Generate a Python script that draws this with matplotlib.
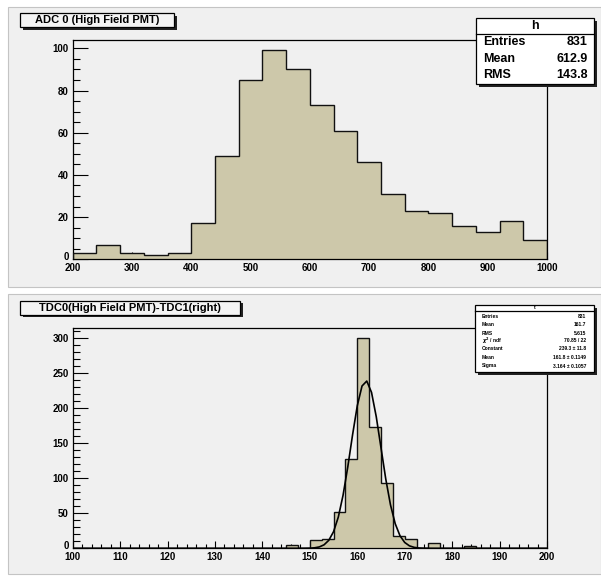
import numpy as np
import matplotlib
matplotlib.use('Agg')
import matplotlib.pyplot as plt
from matplotlib.patches import Rectangle
from matplotlib.lines import Line2D
from matplotlib.ticker import MultipleLocator
from matplotlib.transforms import ScaledTranslation

# ---------------- data ----------------
adc_title = "ADC 0 (High Field PMT)"
adc_range = (200, 1000)
adc_counts = [3, 7, 3, 2, 3, 17, 49, 85, 99, 90, 73, 61, 46, 31, 23, 22, 16, 13, 18, 9]
adc_xticks = [200, 300, 400, 500, 600, 700, 800, 900, 1000]
adc_yticks = [0, 20, 40, 60, 80, 100]
adc_stats_name = "h"
adc_stats_labels = ["Entries", "Mean", "RMS"]
adc_stats_values = ["831", "612.9", "143.8"]

tdc_title = "TDC0(High Field PMT)-TDC1(right)"
tdc_range = (100, 200)
tdc_counts = [0, 0, 0, 0, 0, 0, 0, 0, 0, 0,
              0, 0, 0, 0, 0, 0, 0, 0, 4, 0,
              12, 13, 52, 127, 300, 173, 93, 18, 13, 0,
              7, 1, 1, 3, 0, 0, 0, 1, 1, 0]
tdc_xticks = [100, 110, 120, 130, 140, 150, 160, 170, 180, 190, 200]
tdc_yticks = [0, 50, 100, 150, 200, 250, 300]
tdc_stats_name = "t"
tdc_stats_labels = ["Entries", "Mean", "RMS", r"$\chi^{2}$ / ndf", "Constant", "Mean", "Sigma"]
tdc_stats_values = ["831", "161.7", "5.615", "70.85 / 22", "239.3 ± 11.8",
                    "161.8 ± 0.1149", "3.164 ± 0.1057"]
fit_constant = 239.3
fit_mean = 161.8
fit_sigma = 3.164

# ---------------- style ----------------
plt.rcParams['font.family'] = ['Liberation Sans', 'DejaVu Sans']
plt.rcParams['font.weight'] = 'bold'
plt.rcParams['mathtext.fontset'] = 'dejavusans'

W, H = 601, 577
fig = plt.figure(figsize=(W / 100, H / 100), dpi=100)
fig.patch.set_facecolor('white')

PAD_BG = '#f0f0f0'
FILL = '#cdc8aa'


def fx(px):
    return px / W


def fy(py):
    return 1 - py / H


def rect_px(x0, y0, x1, y1, z=1, **kw):
    r = Rectangle((fx(x0), fy(y1)), (x1 - x0) / W, (y1 - y0) / H,
                  transform=fig.transFigure, zorder=z, **kw)
    fig.add_artist(r)
    return r


def line_px(x0, y0, x1, y1, z=6, **kw):
    l = Line2D([fx(x0), fx(x1)], [fy(y0), fy(y1)], transform=fig.transFigure,
               zorder=z, **kw)
    fig.add_artist(l)


# pads
rect_px(8, 7, 601, 287, z=-5, facecolor=PAD_BG, edgecolor='#c4c4c4', lw=0.8)
rect_px(8, 294, 601, 574, z=-5, facecolor=PAD_BG, edgecolor='#c4c4c4', lw=0.8)


def make_axes(top, bottom):
    ax = fig.add_axes([fx(72.7), fy(bottom), (547 - 72.7) / W, (bottom - top) / H])
    ax.set_facecolor(PAD_BG)
    for s in ax.spines.values():
        s.set_linewidth(0.9)
        s.set_color('black')
    ax.tick_params(axis='both', which='both', direction='in', top=False, right=False,
                   labelsize=7, width=0.8, colors='black')
    ax.tick_params(axis='x', which='major', length=5.4, pad=3)
    ax.tick_params(axis='x', which='minor', length=2.7)
    ax.tick_params(axis='y', which='major', length=10.5, pad=3)
    ax.tick_params(axis='y', which='minor', length=5.2)
    return ax


def lift_zero_label(ax):
    fig.canvas.draw()
    lab = ax.get_yticklabels()[0]
    lab.set_transform(lab.get_transform() + ScaledTranslation(0, 2.5 / 72, fig.dpi_scale_trans))


def title_box(x0, y0, x1, y1, text):
    rect_px(x0 + 2.5, y0 + 2.5, x1 + 2.5, y1 + 2.5, z=5, facecolor='#222222', edgecolor='none')
    rect_px(x0, y0, x1, y1, z=6, facecolor='#f4f4f4', edgecolor='black', lw=0.9)
    fig.text(fx((x0 + x1) / 2), fy((y0 + y1) / 2), text, ha='center', va='center',
             fontsize=8, fontweight='bold', zorder=7)


def stats_box(x0, y0, x1, y1, hsep, name, labels, values, rows_y, fs, tx0, tx1):
    rect_px(x0 + 3, y0 + 3, x1 + 3, y1 + 3, z=5, facecolor='#222222', edgecolor='none')
    rect_px(x0, y0, x1, y1, z=6, facecolor='white', edgecolor='black', lw=0.9)
    line_px(x0, hsep, x1, hsep, z=7, color='black', lw=0.9)
    fig.text(fx((x0 + x1) / 2), fy((y0 + hsep) / 2), name, ha='center', va='center',
             fontsize=fs, fontweight='bold', zorder=8)
    for lab, val, yy in zip(labels, values, rows_y):
        fig.text(fx(tx0), fy(yy), lab, ha='left', va='center', fontsize=fs,
                 fontweight='bold', zorder=8)
        fig.text(fx(tx1), fy(yy), val, ha='right', va='center', fontsize=fs,
                 fontweight='bold', zorder=8)


# ---------------- top: ADC ----------------
ax1 = make_axes(40, 259.3)
adc_edges = np.linspace(adc_range[0], adc_range[1], len(adc_counts) + 1)
ax1.stairs(adc_counts, adc_edges, fill=True, color=FILL, zorder=2)
ax1.stairs(adc_counts, adc_edges, color='#111111', lw=1.0, zorder=3)
ax1.set_xlim(*adc_range)
ax1.set_ylim(0, max(adc_counts) * 1.05)
ax1.set_xticks(adc_xticks)
ax1.set_yticks(adc_yticks)
ax1.xaxis.set_minor_locator(MultipleLocator(20))
ax1.yaxis.set_minor_locator(MultipleLocator(5))

title_box(20, 13.3, 174, 27.3, adc_title)
stats_box(476, 18.3, 594, 84, 34.3, adc_stats_name, adc_stats_labels, adc_stats_values,
          [42.3, 59, 75], 9, 482.7, 587.3)

# ---------------- bottom: TDC ----------------
ax2 = make_axes(327.7, 548.3)
tdc_edges = np.linspace(tdc_range[0], tdc_range[1], len(tdc_counts) + 1)
ax2.stairs(tdc_counts, tdc_edges, fill=True, color=FILL, zorder=2)
ax2.stairs(tdc_counts, tdc_edges, color='#111111', lw=1.0, zorder=3)
gx = np.linspace(tdc_range[0], tdc_range[1], 101)
gy = fit_constant * np.exp(-0.5 * ((gx - fit_mean) / fit_sigma) ** 2)
ax2.plot(gx, gy, color='black', lw=1.2, zorder=4)
ax2.set_xlim(*tdc_range)
ax2.set_ylim(0, max(tdc_counts) * 1.05)
ax2.set_xticks(tdc_xticks)
ax2.set_yticks(tdc_yticks)
ax2.xaxis.set_minor_locator(MultipleLocator(2))
ax2.yaxis.set_minor_locator(MultipleLocator(10))

title_box(20, 300.7, 240, 314.7, tdc_title)
stats_box(475.3, 305, 594, 371.7, 310.7, tdc_stats_name, tdc_stats_labels, tdc_stats_values,
          [316.7, 325, 333.3, 340.5, 349, 357.3, 366], 3.6, 481.7, 586)

lift_zero_label(ax1)
lift_zero_label(ax2)

fig.savefig('out.png', dpi=100, facecolor=fig.get_facecolor())
